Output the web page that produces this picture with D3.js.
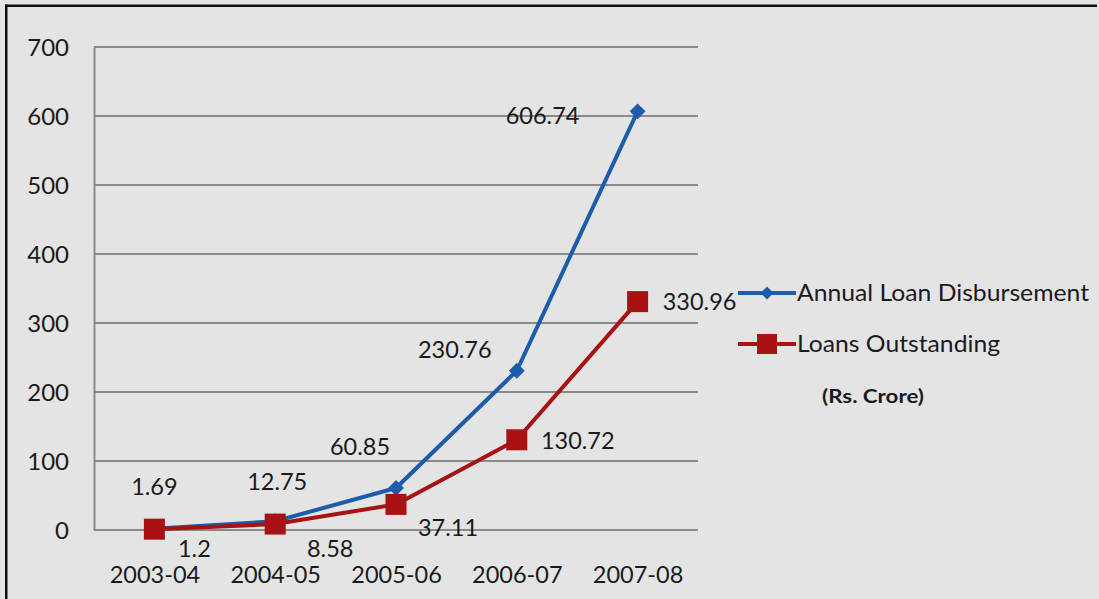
<!DOCTYPE html>
<html>
<head>
<meta charset="utf-8">
<script src="https://cdn.jsdelivr.net/npm/d3@7"></script>
<style>
  html, body { margin: 0; padding: 0; background: #e4e4e4; }
  svg { display: block; }
  text { font-family: Lato, "Open Sans", sans-serif; fill: #1a1a1a; }
</style>
</head>
<body>
<svg id="chart" width="1099" height="599"></svg>
<script>
const categories = ["2003-04", "2004-05", "2005-06", "2006-07", "2007-08"];
const disbursement = [1.69, 12.75, 60.85, 230.76, 606.74];
const outstanding = [1.2, 8.58, 37.11, 130.72, 330.96];
const yTicks = [0, 100, 200, 300, 400, 500, 600, 700];
const seriesNames = ["Annual Loan Disbursement", "Loans Outstanding"];
const unitNote = "(Rs. Crore)";
// manual label nudges (pixels) as in the original chart
const offsetsA = [[0, -42], [2, -39], [-36, -41], [-62, -21], [-95, 4]];
const offsetsB = [[40, 20], [55, 25], [52, 23], [61, 1], [62, 0]];

const svg = d3.select("#chart");
const W = 1099, H = 599;
const plot = { left: 94, right: 698, top: 47, bottom: 530 };
const blue = "#1d5cab", red = "#a81212";

// frame
svg.append("rect").attr("x", 0).attr("y", 0).attr("width", W).attr("height", H).attr("fill", "#e4e4e4");
svg.append("rect").attr("x", 5).attr("y", 4.5).attr("width", W - 7).attr("height", 2.5).attr("fill", "#111");
svg.append("rect").attr("x", 5).attr("y", 4.5).attr("width", 2.5).attr("height", H - 4).attr("fill", "#111");

const x = d3.scalePoint().domain(categories).range([plot.left, plot.right]).padding(0.5);
const y = d3.scaleLinear().domain([0, 700]).range([plot.bottom, plot.top]);

// gridlines
svg.append("g").selectAll("line").data(yTicks).join("line")
  .attr("x1", plot.left).attr("x2", plot.right)
  .attr("y1", d => y(d)).attr("y2", d => y(d))
  .attr("stroke", "#8a8a8a").attr("stroke-width", 2);

// y axis
const yAxis = d3.axisLeft(y).tickValues(yTicks).tickSize(0).tickPadding(25);
const gy = svg.append("g").attr("transform", `translate(${plot.left},0)`).call(yAxis);
gy.select(".domain").attr("stroke", "#8a8a8a").attr("stroke-width", 2);
gy.selectAll("text").attr("font-size", 24).attr("font-family", "Lato, sans-serif").attr("fill", "#1a1a1a").attr("dy", "0.35em");

// x axis labels
const xAxis = d3.axisBottom(x).tickSize(0).tickPadding(36);
const gx = svg.append("g").attr("transform", `translate(0,${plot.bottom})`).call(xAxis);
gx.select(".domain").remove();
gx.selectAll("text").attr("font-size", 23.5).attr("font-family", "Lato, sans-serif").attr("fill", "#1a1a1a");

const line = d3.line().x((d, i) => x(categories[i])).y(d => y(d));

// series A
svg.append("path").datum(disbursement).attr("d", line)
  .attr("fill", "none").attr("stroke", blue).attr("stroke-width", 4).attr("stroke-linejoin", "round");
svg.append("g").selectAll("path").data(disbursement).join("path")
  .attr("d", d3.symbol().type(d3.symbolDiamond2).size(160))
  .attr("transform", (d, i) => `translate(${x(categories[i])},${y(d)})`)
  .attr("fill", blue);

// series B
svg.append("path").datum(outstanding).attr("d", line)
  .attr("fill", "none").attr("stroke", red).attr("stroke-width", 4).attr("stroke-linejoin", "round");
svg.append("g").selectAll("rect").data(outstanding).join("rect")
  .attr("x", (d, i) => x(categories[i]) - 10.5).attr("y", d => y(d) - 10.5)
  .attr("width", 21).attr("height", 21).attr("fill", red);

// data labels
svg.append("g").selectAll("text").data(disbursement).join("text")
  .attr("x", (d, i) => x(categories[i]) + offsetsA[i][0])
  .attr("y", (d, i) => y(d) + offsetsA[i][1])
  .attr("text-anchor", "middle").attr("dy", "0.35em").attr("font-size", 23.5)
  .text(d => d);
svg.append("g").selectAll("text").data(outstanding).join("text")
  .attr("x", (d, i) => x(categories[i]) + offsetsB[i][0])
  .attr("y", (d, i) => y(d) + offsetsB[i][1])
  .attr("text-anchor", "middle").attr("dy", "0.35em").attr("font-size", 23.5)
  .text(d => d);

// legend
const lg = svg.append("g");
const legendRows = [{ name: seriesNames[0], color: blue, marker: "diamond", y: 293, len: 292 },
                    { name: seriesNames[1], color: red, marker: "square", y: 344, len: 203 }];
legendRows.forEach(r => {
  lg.append("line").attr("x1", 738).attr("x2", 796).attr("y1", r.y).attr("y2", r.y)
    .attr("stroke", r.color).attr("stroke-width", 4);
  if (r.marker === "diamond") {
    lg.append("path").attr("d", d3.symbol().type(d3.symbolDiamond2).size(110))
      .attr("transform", `translate(767,${r.y})`).attr("fill", r.color);
  } else {
    lg.append("rect").attr("x", 757).attr("y", r.y - 10).attr("width", 20).attr("height", 20).attr("fill", r.color);
  }
  lg.append("text").attr("x", 797).attr("y", r.y).attr("dy", "0.35em")
    .attr("font-size", 23).attr("textLength", r.len).attr("lengthAdjust", "spacingAndGlyphs")
    .text(r.name);
});
lg.append("text").attr("x", 822).attr("y", 396).attr("dy", "0.35em")
  .attr("font-size", 19).attr("font-weight", "bold")
  .attr("textLength", 102).attr("lengthAdjust", "spacingAndGlyphs").text(unitNote);
</script>
</body>
</html>
